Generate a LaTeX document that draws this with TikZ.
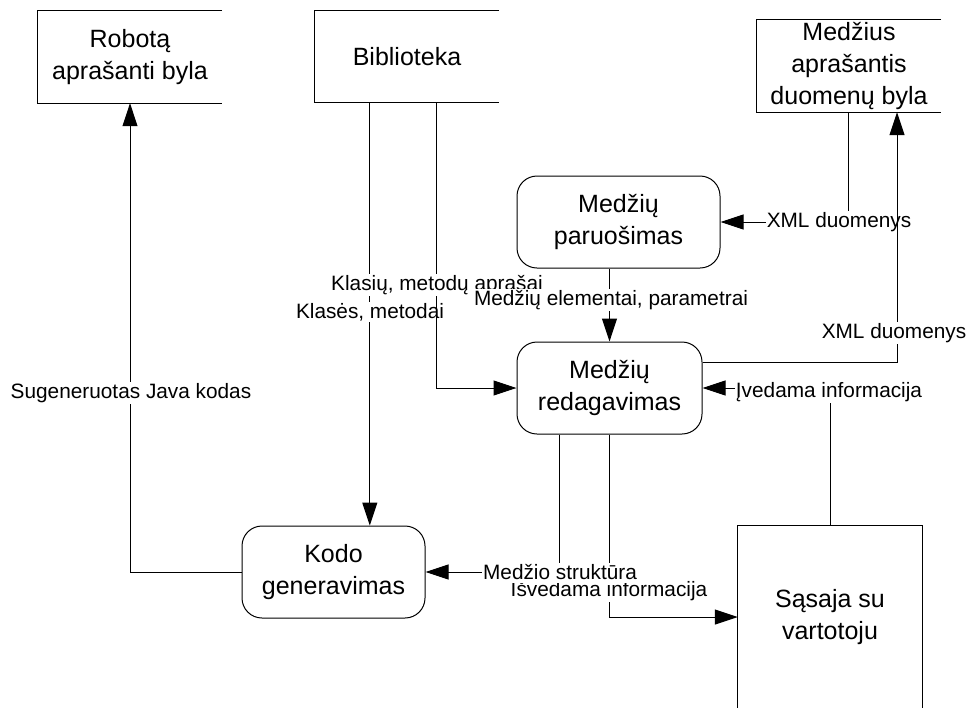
\documentclass[tikz,border=0pt]{standalone}
\usepackage{fontspec}
\setmainfont{Liberation Sans}
\usetikzlibrary{arrows.meta}
\begin{document}
\begin{tikzpicture}[x=1pt,y=-1pt,
  every node/.style={inner sep=0pt},
  boxtext/.style={font=\fontsize{25}{32}\selectfont, align=center},
  store/.style={boxtext, minimum width=184pt, minimum height=92pt},
  process/.style={boxtext, draw, rounded corners=20pt, minimum height=92pt, line width=1pt},
  flow/.style={line width=1pt, -{Triangle[length=23pt,width=15pt]}},
  plain/.style={line width=1pt},
  flowlabel/.style={font=\fontsize{20.8}{23}\selectfont, fill=white, inner xsep=1pt, inner ysep=1pt},
]
\useasboundingbox (0,0) rectangle (973,707);
\fill[white] (0,0) rectangle (973,707);

% data stores, open on the right side
\node[store] (robot) at (130,57) {Robotą\\aprašanti byla};
\node[store] (bib) at (407,56.5) {Biblioteka};
\node[store] (trees) at (849,66) {Medžius\\aprašantis\\duomenų byla};
\foreach \n in {robot,bib,trees}
  \draw[plain] (\n.north east) -- (\n.north west) -- (\n.south west) -- (\n.south east);

% processes
\node[process, minimum width=203pt] (prep) at (618.5,222) {Medžių\\paruošimas};
\node[process, minimum width=185pt] (edit) at (609.5,388) {Medžių\\redagavimas};
\node[process, minimum width=183pt] (code) at (333.5,572) {Kodo\\generavimas};

% external entity, running past the lower edge
\node[boxtext, minimum width=184pt, minimum height=182pt] (ui) at (830,617) {Sąsaja su\\vartotoju};
\draw[plain] (ui.south west) -- (ui.north west) -- (ui.north east) -- (ui.south east);

% generated code goes to the robot file
\draw[flow] (code.west) -| (robot.south);
\node[flowlabel] (lgen) at (131,393) {Sugeneruotas Java kodas};

% library: classes and methods for the code generator
\draw[flow] ([xshift=55pt]bib.south west) coordinate (b1) -- (b1 |- code.north);
\node[flowlabel] (lcls) at (370,312) {Klasės, metodai};

% library: descriptions for the editor
\draw[flow] ([xshift=122pt]bib.south west) |- (edit.west);
\node[flowlabel] (ldesc) at (437,285) {Klasių, metodų aprašai};

% tree data file into preparation
\draw[flow] ([xshift=-1pt]trees.south) |- (prep.east);
\node[flowlabel] (lxml1) at (839,222) {XML duomenys};

% preparation into editing
\draw[flow] (edit.north |- prep.south) -- (edit.north);
\node[flowlabel] (lelem) at (611,300) {Medžių elementai, parametrai};

% editing writes back the tree data file
\draw[flow] ([yshift=26pt]edit.east) -| ([xshift=48pt]trees.south);
\node[flowlabel] (lxml2) at (894,333) {XML duomenys};

% user input into editing
\draw[flow] (ui.north) |- (edit.east);
\node[flowlabel] (lin) at (829,392) {Įvedama informacija};

% editing output to the user
\draw[flow] (edit.south) |- (ui.west);
\node[flowlabel] (lout) at (609,591) {Išvedama informacija};

% tree structure into code generation, its label laid over the one below
\draw[flow] ([xshift=-50pt]edit.south) |- (code.east);
\node[flowlabel, text depth=0.3em] (lstruct) at (560,573) {Medžio struktūra};
\end{tikzpicture}
\end{document}
